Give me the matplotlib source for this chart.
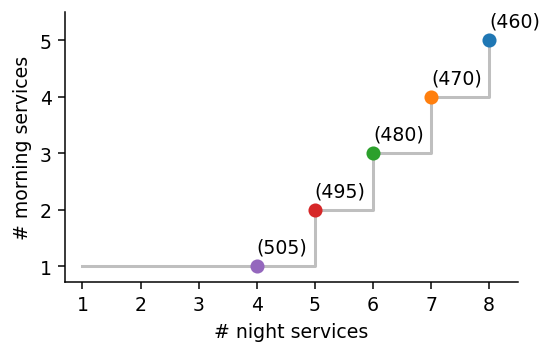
import matplotlib.pyplot as plt

night = [8, 7, 6, 5, 4]
morning = [5, 4, 3, 2, 1]
cost = [460, 470, 480, 495, 505]
step_x = [1, 5, 6, 7, 8]
step_y = [1, 2, 3, 4, 5]

fig, ax = plt.subplots(figsize=(4.0, 2.531), dpi=135.5)
ax.step(step_x, step_y, where='post', color='#bfbfbf', lw=1.6, zorder=1)
for i, (x, y, c) in enumerate(zip(night, morning, cost)):
    ax.scatter(x, y, color='C%d' % i, s=42, zorder=2)
    ax.annotate('(%d)' % c, (x, y), xytext=(0, 5), textcoords='offset points',
                ha='left', va='bottom', fontsize=10)

ax.set_xlim(0.7, 8.5)
ax.set_ylim(0.72, 5.5)
ax.set_xticks(range(1, 9))
ax.set_yticks(range(1, 6))
ax.set_xlabel('# night services')
ax.set_ylabel('# morning services')
ax.spines['top'].set_visible(False)
ax.spines['right'].set_visible(False)
fig.subplots_adjust(left=0.12, right=0.956, top=0.962, bottom=0.175)
fig.savefig('out.png')
